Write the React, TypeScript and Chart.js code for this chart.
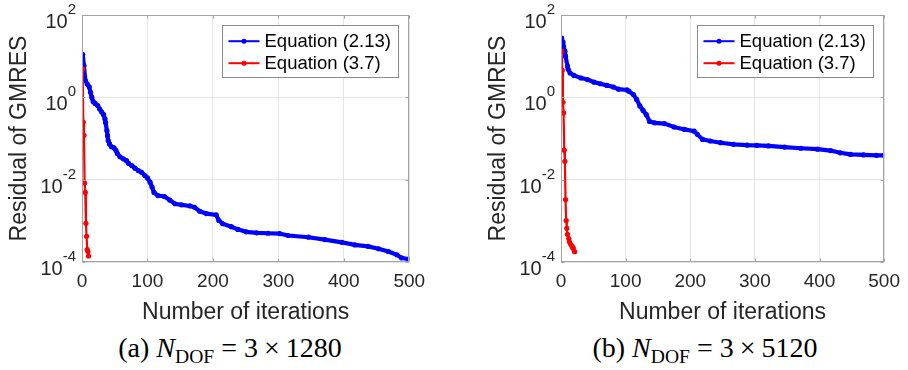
import React, { useEffect, useRef } from "react";
import { Chart, registerables } from "chart.js";

Chart.register(...registerables);

// ---------- data ----------
const xTickValues = [0, 100, 200, 300, 400, 500];
const yTickExponents = [2, 0, -2, -4];
const seriesNames = ["Equation (2.13)", "Equation (3.7)"];
const xAxisTitle = "Number of iterations";
const yAxisTitle = "Residual of GMRES";

// panel (a) N_DOF = 3 x 1280
const aBlueIter = [1, 3, 5, 8, 11, 13, 15, 17, 20, 24, 27, 30, 33, 35, 36, 38, 39, 40, 42, 45, 49, 52, 54, 58, 63, 68, 71, 76, 81, 86, 91, 96, 100, 104, 107, 110, 116, 126, 134, 142, 152, 165, 172, 180, 190, 205, 209, 215, 228, 238, 251, 267, 284, 302, 315, 346, 371, 397, 417, 437, 453, 468, 481, 488, 499];
const aBlueRes = [11.0, 5.9, 2.6, 2.1, 1.8, 1.32, 1.0, 0.79, 0.71, 0.63, 0.52, 0.44, 0.38, 0.30, 0.245, 0.155, 0.117, 0.089, 0.074, 0.063, 0.059, 0.051, 0.043, 0.036, 0.032, 0.029, 0.025, 0.022, 0.019, 0.0166, 0.0151, 0.0126, 0.011, 0.0087, 0.0066, 0.0049, 0.0041, 0.0039, 0.0032, 0.0026, 0.00245, 0.0023, 0.00214, 0.0017, 0.0015, 0.0014, 0.00102, 0.00085, 0.00072, 0.00062, 0.00054, 0.00051, 0.0005, 0.00049, 0.00044, 0.0004, 0.00035, 0.0003, 0.00026, 0.00024, 0.00021, 0.00018, 0.00015, 0.000126, 0.000117];
const aRedIter = [1, 2, 3, 4, 5, 6, 7, 8, 9, 10];
const aRedRes = [4.9, 0.25, 0.12, 0.0083, 0.0049, 0.00087, 0.00042, 0.0002, 0.00018, 0.00014];

// panel (b) N_DOF = 3 x 5120
const bBlueIter = [1, 3, 4, 6, 7, 10, 11, 14, 20, 31, 41, 51, 61, 71, 81, 89, 102, 105, 112, 117, 122, 127, 132, 137, 145, 160, 175, 191, 206, 211, 219, 231, 247, 267, 288, 303, 321, 346, 371, 397, 417, 432, 448, 468, 488, 500];
const bBlueRes = [27.5, 21.9, 17.0, 13.2, 10.0, 5.75, 4.8, 3.9, 3.4, 2.95, 2.7, 2.34, 2.14, 1.95, 1.78, 1.58, 1.51, 1.41, 1.17, 0.89, 0.62, 0.48, 0.38, 0.26, 0.24, 0.23, 0.19, 0.166, 0.151, 0.126, 0.095, 0.087, 0.079, 0.072, 0.069, 0.068, 0.066, 0.062, 0.058, 0.055, 0.051, 0.045, 0.041, 0.04, 0.039, 0.039];
const bRedIter = [1, 2, 3, 4, 5, 6, 7, 8, 9, 10, 12, 13, 15, 17, 18, 19, 21];
const bRedRes = [13.2, 4.5, 0.76, 0.42, 0.052, 0.028, 0.0033, 0.00102, 0.00066, 0.00047, 0.00037, 0.00031, 0.00027, 0.000245, 0.000224, 0.000214, 0.000178];

// ---------- style ----------
const FONT = '"Liberation Sans", Arial, Helvetica, sans-serif';
const TEXT = "#262626";
const FRAME = "#a3a3a3";
const GRID = "#e4e4e4";
const BLUE = "#0000ff";
const RED = "#ff0000";

const matlabPlugin = {
  id: "matlabDecor",
  afterDraw(chart: any) {
    const { ctx, chartArea: ca, scales } = chart;
    const xs = scales.x;
    const ys = scales.y;
    ctx.save();
    // frame
    const L = Math.round(ca.left) + 0.5;
    const T = Math.round(ca.top) + 0.5;
    const R = Math.round(ca.right) - 0.5;
    const B = Math.round(ca.bottom) - 0.5;
    ctx.strokeStyle = FRAME;
    ctx.lineWidth = 1;
    ctx.strokeRect(L, T, R - L, B - T);
    // inward tick marks
    ctx.beginPath();
    for (const v of xTickValues) {
      const px = Math.round(xs.getPixelForValue(v)) + 0.5;
      ctx.moveTo(px, B);
      ctx.lineTo(px, B - 3);
      ctx.moveTo(px, T);
      ctx.lineTo(px, T + 3);
    }
    for (const e of yTickExponents) {
      const py = Math.round(ys.getPixelForValue(Math.pow(10, e))) + 0.5;
      ctx.moveTo(L, py);
      ctx.lineTo(L + 3, py);
      ctx.moveTo(R, py);
      ctx.lineTo(R - 3, py);
    }
    ctx.stroke();

    // y tick labels 10^e
    ctx.fillStyle = TEXT;
    ctx.textBaseline = "alphabetic";
    ctx.textAlign = "left";
    for (const e of yTickExponents) {
      const py = ys.getPixelForValue(Math.pow(10, e));
      const expText = String(e);
      ctx.font = `15px ${FONT}`;
      const ew = ctx.measureText(expText).width;
      ctx.font = `20px ${FONT}`;
      const bw = ctx.measureText("10").width;
      const right = ca.left - 6;
      ctx.fillText("10", right - ew - bw, py + 13);
      ctx.font = `15px ${FONT}`;
      ctx.fillText(expText, right - ew, py - 1);
    }

    // legend
    const bw = 176;
    const bh = 52;
    const bx = Math.round(ca.right - 11 - bw) + 0.5;
    const by = Math.round(ca.top + 10) + 0.5;
    ctx.fillStyle = "#ffffff";
    ctx.fillRect(bx, by, bw, bh);
    ctx.strokeStyle = "#8c8c8c";
    ctx.lineWidth = 1;
    ctx.strokeRect(bx, by, bw, bh);
    const rows = [15.7, 37.7];
    chart.data.datasets.forEach((ds: any, i: number) => {
      const ry = by + rows[i];
      ctx.strokeStyle = ds.borderColor;
      ctx.lineWidth = 2;
      ctx.beginPath();
      ctx.moveTo(bx + 6, ry);
      ctx.lineTo(bx + 37, ry);
      ctx.stroke();
      ctx.fillStyle = ds.borderColor;
      ctx.beginPath();
      ctx.arc(bx + 21.5, ry, 2.5, 0, Math.PI * 2);
      ctx.fill();
      ctx.fillStyle = "#000000";
      ctx.font = `18.5px ${FONT}`;
      ctx.textBaseline = "middle";
      ctx.textAlign = "left";
      ctx.fillText(ds.label, bx + 42, ry + 1);
    });
    ctx.restore();
  },
};

type PanelProps = {
  left: number;
  width: number;
  padRight: number;
  blueIter: number[];
  blueRes: number[];
  redIter: number[];
  redRes: number[];
};

function Panel({ left, width, padRight, blueIter, blueRes, redIter, redRes }: PanelProps) {
  const ref = useRef<HTMLCanvasElement>(null);
  useEffect(() => {
    const chart = new Chart(ref.current as HTMLCanvasElement, {
      type: "line",
      data: {
        datasets: [
          {
            label: seriesNames[0],
            data: blueIter.map((x, i) => ({ x, y: blueRes[i] })),
            borderColor: BLUE,
            backgroundColor: BLUE,
            borderWidth: 4.2,
            pointRadius: 2.6,
            pointBorderWidth: 0,
            pointBackgroundColor: BLUE,
            tension: 0,
            order: 1,
          },
          {
            label: seriesNames[1],
            data: redIter.map((x, i) => ({ x, y: redRes[i] })),
            borderColor: RED,
            backgroundColor: RED,
            borderWidth: 2.2,
            pointRadius: 2.6,
            pointBorderWidth: 0,
            pointBackgroundColor: RED,
            tension: 0,
            order: 0,
          },
        ],
      },
      options: {
        animation: false,
        responsive: false,
        devicePixelRatio: 1,
        layout: { padding: { top: 15, right: padRight, left: 0, bottom: 0 } },
        plugins: { legend: { display: false }, tooltip: { enabled: false } },
        scales: {
          x: {
            type: "linear",
            min: 0,
            max: 500,
            afterBuildTicks: (scale: any) => {
              scale.ticks = xTickValues.map((v) => ({ value: v }));
            },
            afterFit: (scale: any) => {
              scale.height = 68;
            },
            ticks: {
              maxRotation: 0,
              autoSkip: false,
              padding: 8,
              color: TEXT,
              font: { family: FONT, size: 19 },
            },
            grid: { color: GRID, drawTicks: false },
            border: { display: false },
            title: {
              display: true,
              text: xAxisTitle,
              color: TEXT,
              font: { family: FONT, size: 23 },
              padding: { top: 0, bottom: 4 },
            },
          },
          y: {
            type: "logarithmic",
            min: 1e-4,
            max: 1e2,
            afterBuildTicks: (scale: any) => {
              scale.ticks = yTickExponents.map((e) => ({ value: Math.pow(10, e) }));
            },
            afterFit: (scale: any) => {
              scale.width = 82;
            },
            ticks: { display: false },
            grid: { color: GRID, drawTicks: false },
            border: { display: false },
            title: {
              display: true,
              text: yAxisTitle,
              color: TEXT,
              font: { family: FONT, size: 23 },
              padding: { top: 6, bottom: 0 },
            },
          },
        },
      },
      plugins: [matlabPlugin],
    } as any);
    return () => chart.destroy();
  }, []);
  return (
    <canvas
      ref={ref}
      width={width}
      height={330}
      style={{ position: "absolute", left, top: 0, width, height: 330 }}
    />
  );
}

const captionStyle: React.CSSProperties = {
  position: "absolute",
  top: 333,
  textAlign: "center",
  fontFamily: '"Liberation Serif", "DejaVu Serif", serif',
  fontSize: 28,
  color: "#000",
  whiteSpace: "nowrap",
  lineHeight: "30px",
};

function Caption({ tag, n, center }: { tag: string; n: string; center: number }) {
  return (
    <div style={{ ...captionStyle, left: center - 200, width: 400 }}>
      ({tag}) <i>N</i>
      <sub style={{ fontSize: "0.7em", verticalAlign: "-0.3em", lineHeight: 0 }}>DOF</sub>
      <span style={{ margin: "0 7px" }}>=</span>3<span style={{ margin: "0 6px" }}>×</span>
      {n}
    </div>
  );
}

export default function App() {
  return (
    <div
      style={{
        position: "fixed",
        left: 0,
        top: 0,
        width: 908,
        height: 370,
        background: "#ffffff",
        overflow: "hidden",
      }}
    >
      <Panel left={0} width={440} padRight={30.7} blueIter={aBlueIter} blueRes={aBlueRes} redIter={aRedIter} redRes={aRedRes} />
      <Panel left={479} width={429} padRight={18.7} blueIter={bBlueIter} blueRes={bBlueRes} redIter={bRedIter} redRes={bRedRes} />
      <Caption tag="a" n="1280" center={230} />
      <Caption tag="b" n="5120" center={705} />
    </div>
  );
}
